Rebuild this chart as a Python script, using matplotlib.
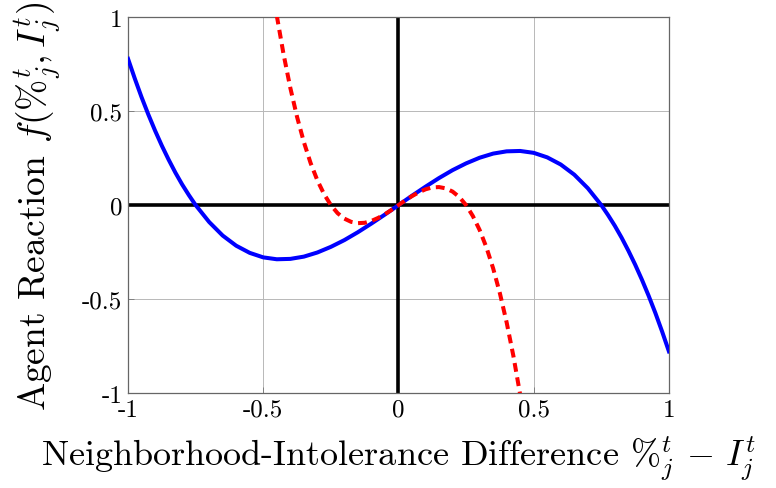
"""
Agent reaction curves: cubic reaction vs neighborhood-intolerance difference
"""
import matplotlib
matplotlib.use("Agg")
import matplotlib.pyplot as plt

# Blue curve (solid) (denser near the steep ends)
blue_x = [-1.000, -0.975, -0.950, -0.925, -0.900, -0.875, -0.850, -0.825, -0.800, -0.775,
          -0.75, -0.70, -0.65, -0.60, -0.55,
          -0.50, -0.45, -0.40, -0.35, -0.30, -0.25, -0.20, -0.15, -0.10, -0.05,
          0.00, 0.05, 0.10, 0.15, 0.20, 0.25, 0.30, 0.35, 0.40, 0.45,
          0.50, 0.55, 0.60, 0.65, 0.70,
          0.750, 0.775, 0.800, 0.825, 0.850, 0.875, 0.900, 0.925, 0.950, 0.975, 1.000]
blue_y = [0.778, 0.673, 0.574, 0.482, 0.396, 0.316, 0.242, 0.173, 0.110, 0.053,
          0.000, -0.090, -0.162, -0.216, -0.254,
          -0.278, -0.288, -0.286, -0.274, -0.252, -0.222, -0.186, -0.144, -0.098, -0.050,
          0.000, 0.050, 0.098, 0.144, 0.186, 0.222, 0.252, 0.274, 0.286, 0.288,
          0.278, 0.254, 0.216, 0.162, 0.090,
          0.000, -0.053, -0.110, -0.173, -0.242, -0.316, -0.396, -0.482, -0.574, -0.673, -0.778]

# Red curve (dashed), every 0.025
red_x = [-0.450, -0.425, -0.400, -0.375, -0.350, -0.325, -0.300, -0.275, -0.250,
         -0.225, -0.200, -0.175, -0.150, -0.125, -0.100, -0.075, -0.050, -0.025,
         0.000, 0.025, 0.050, 0.075, 0.100, 0.125, 0.150, 0.175, 0.200,
         0.225, 0.250, 0.275, 0.300, 0.325, 0.350, 0.375, 0.400, 0.425, 0.450]
red_y = [1.008, 0.803, 0.624, 0.469, 0.336, 0.224, 0.132, 0.058, 0.000,
         -0.043, -0.072, -0.089, -0.096, -0.094, -0.084, -0.068, -0.048, -0.025,
         0.000, 0.025, 0.048, 0.068, 0.084, 0.094, 0.096, 0.089, 0.072,
         0.043, 0.000, -0.058, -0.132, -0.224, -0.336, -0.469, -0.624, -0.803, -1.008]

tick_vals = [-1, -0.5, 0, 0.5, 1]
tick_labels = ["-1", "-0.5", "0", "0.5", "1"]

plt.rcParams["font.family"] = ["cmr10", "DejaVu Serif"]
plt.rcParams["mathtext.fontset"] = "cm"
plt.rcParams["axes.unicode_minus"] = False

fig = plt.figure(figsize=(7.76, 4.89), dpi=100)
ax = fig.add_axes([0.165, 0.194, 0.697, 0.769])

ax.set_xlim(-1, 1)
ax.set_ylim(-1, 1)
ax.grid(True, color="#b8b8b8", linewidth=0.7)
ax.set_axisbelow(True)

# axis cross
ax.axhline(0, color="black", linewidth=2.6, zorder=2)
ax.axvline(0, color="black", linewidth=2.6, zorder=2)

ax.plot(blue_x, blue_y, color="#0000ff", linewidth=2.9, zorder=3,
        solid_joinstyle="round")
ax.plot(red_x, red_y, color="#ff0000", linewidth=2.9, dashes=(2.2, 1.4), zorder=4)

ax.set_xticks(tick_vals)
ax.set_xticklabels(tick_labels)
ax.set_yticks(tick_vals)
ax.set_yticklabels(tick_labels)
ax.tick_params(direction="in", length=4, width=0.6, color="#777777",
               labelsize=18, pad=4)

for s in ax.spines.values():
    s.set_color("#666666")
    s.set_linewidth(0.9)

ax.set_xlabel(r"Neighborhood-Intolerance Difference $\%^t_j \,-\, I^t_j$",
              fontsize=26, labelpad=9)
ax.set_ylabel(r"Agent Reaction $f(\%^t_j, I^t_j)$", fontsize=27, labelpad=14)

fig.savefig("out.png", dpi=100)
